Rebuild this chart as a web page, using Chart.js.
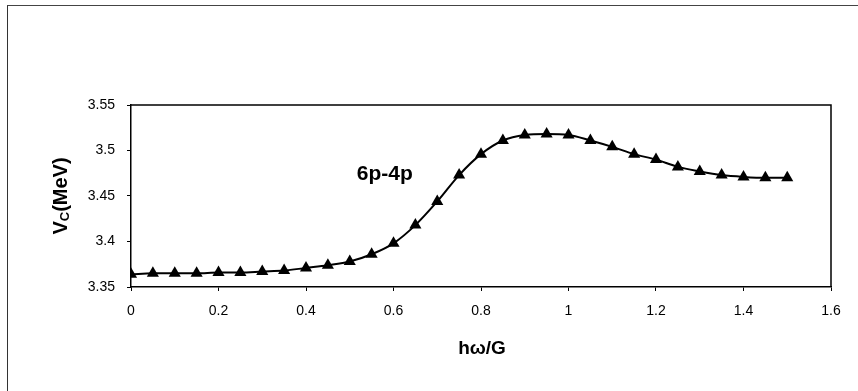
<!DOCTYPE html>
<html>
<head>
<meta charset="utf-8">
<script src="https://cdn.jsdelivr.net/npm/chart.js@4.4.0/dist/chart.umd.min.js"></script>
<style>
    html, body { margin: 0; padding: 0; background: #fff; }
    #wrap { position: relative; width: 858px; height: 391px; overflow: hidden; }
    #frame { position: absolute; left: 7px; top: 5px; width: 900px; height: 500px;
             border-left: 1.5px solid #333; border-top: 1.5px solid #444; }
    #chart-1 { position: absolute; left: 0; top: 0; }
</style>
</head>
<body>
<div id="wrap">
    <div id="frame"></div>
    <canvas id="chart-1" width="858" height="391"></canvas>
</div>
<script>
// h-omega / G values
var x_data = [0, 0.05, 0.1, 0.15, 0.2, 0.25, 0.3, 0.35, 0.4, 0.45, 0.5, 0.55, 0.6, 0.65, 0.7, 0.75,
              0.8, 0.85, 0.9, 0.95, 1.0, 1.05, 1.1, 1.15, 1.2, 1.25, 1.3, 1.35, 1.4, 1.45, 1.5];
// Vc in MeV
var y_data = [3.364, 3.365, 3.365, 3.365, 3.366, 3.366, 3.367, 3.368, 3.371, 3.374, 3.378, 3.386,
              3.398, 3.418, 3.444, 3.473, 3.496, 3.511, 3.517, 3.518, 3.517, 3.511, 3.504, 3.496,
              3.490, 3.482, 3.477, 3.473, 3.471, 3.470, 3.470];

var x_ticks = [0, 0.2, 0.4, 0.6, 0.8, 1, 1.2, 1.4, 1.6];
var x_tick_labels = ["0", "0.2", "0.4", "0.6", "0.8", "1", "1.2", "1.4", "1.6"];
var y_ticks = [3.35, 3.4, 3.45, 3.5, 3.55];
var y_tick_labels = ["3.35", "3.4", "3.45", "3.5", "3.55"];

var series_label = "6p-4p";
var series_label_pos = { x: 0.58, y: 3.474 };

var points = [];
for (let i = 0; i < x_data.length; i++) {
    points.push({ x: x_data[i], y: y_data[i] });
}

// plot frame, axis titles and the in-plot label
var extras = {
    id: "extras",
    afterDraw: function(chart) {
        const ctx = chart.ctx;
        const a = chart.chartArea;
        ctx.save();
        ctx.strokeStyle = "#000";
        ctx.lineWidth = 1.5;
        ctx.beginPath();
        ctx.moveTo(a.left, a.top);
        ctx.lineTo(a.right, a.top);
        ctx.lineTo(a.right, a.bottom);
        ctx.stroke();

        ctx.fillStyle = "#000";
        // x title
        ctx.font = "bold 19px 'Liberation Sans', Arial, sans-serif";
        ctx.textAlign = "center";
        ctx.textBaseline = "alphabetic";
        ctx.fillText("h\u03c9/G", (a.left + a.right) / 2 + 1, 354);

        // y title with subscript
        ctx.translate(67, (a.top + a.bottom) / 2);
        ctx.rotate(-Math.PI / 2);
        const big = "bold 20px 'Liberation Sans', Arial, sans-serif";
        const small = "bold 13px 'Liberation Sans', Arial, sans-serif";
        ctx.font = big;
        const w1 = ctx.measureText("V").width;
        const w3 = ctx.measureText("(MeV)").width;
        ctx.font = small;
        const w2 = ctx.measureText("C").width;
        let x0 = -(w1 + w2 + w3) / 2;
        ctx.textAlign = "left";
        ctx.font = big;
        ctx.fillText("V", x0, 0);
        ctx.font = small;
        ctx.fillText("C", x0 + w1, 2);
        ctx.font = big;
        ctx.fillText("(MeV)", x0 + w1 + w2, 0);
        ctx.restore();

        ctx.save();
        ctx.fillStyle = "#000";
        ctx.font = "bold 21px 'Liberation Sans', Arial, sans-serif";
        ctx.textAlign = "center";
        ctx.textBaseline = "middle";
        ctx.fillText(series_label,
            chart.scales.x.getPixelForValue(series_label_pos.x),
            chart.scales.y.getPixelForValue(series_label_pos.y));
        ctx.restore();
    }
};

const ctx = document.getElementById("chart-1").getContext("2d");
const myChart = new Chart(ctx, {
    type: "line",
    data: {
        datasets: [{
            label: series_label,
            data: points,
            borderColor: "#000",
            backgroundColor: "#000",
            borderWidth: 2,
            cubicInterpolationMode: "monotone",
            pointStyle: "triangle",
            pointRadius: 7,
            pointBorderWidth: 0,
            pointBackgroundColor: "#000",
            pointBorderColor: "#000",
        }, ],
    },
    plugins: [extras],
    options: {
        responsive: false,
        animation: false,
        layout: {
            padding: { left: 0, top: 105, right: 27, bottom: 0 },
        },
        plugins: {
            legend: { display: false },
            tooltip: { enabled: false },
        },
        scales: {
            x: {
                type: "linear",
                min: 0,
                max: 1.6,
                afterFit: function(scale) { scale.height = 104; },
                afterBuildTicks: function(scale) {
                    scale.ticks = x_ticks.map(v => ({ value: v }));
                },
                ticks: {
                    color: "#000",
                    padding: 12,
                    maxRotation: 0,
                    font: { family: "'Liberation Sans', Arial, sans-serif", size: 14 },
                    callback: function(v, i) { return x_tick_labels[i]; },
                },
                grid: { drawOnChartArea: false, color: "#000", tickLength: 4, lineWidth: 1 },
                border: { color: "#000", width: 1.5 },
            },
            y: {
                min: 3.35,
                max: 3.55,
                afterFit: function(scale) { scale.width = 131; },
                afterBuildTicks: function(scale) {
                    scale.ticks = y_ticks.map(v => ({ value: v }));
                },
                ticks: {
                    color: "#000",
                    padding: 12,
                    font: { family: "'Liberation Sans', Arial, sans-serif", size: 14 },
                    callback: function(v, i) { return y_tick_labels[i]; },
                },
                grid: { drawOnChartArea: false, color: "#000", tickLength: 4, lineWidth: 1 },
                border: { color: "#000", width: 1.5 },
            },
        },
    },
});
</script>
</body>
</html>
